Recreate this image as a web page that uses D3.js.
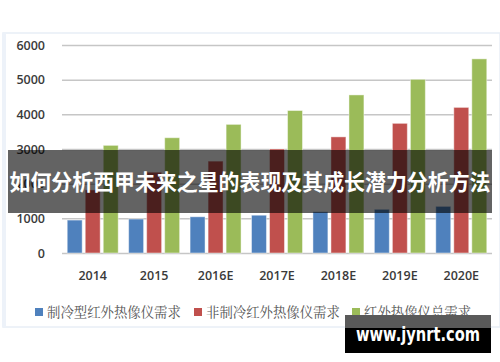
<!DOCTYPE html>
<html>
<head>
<meta charset="utf-8">
<script src="https://cdn.jsdelivr.net/npm/d3@7"></script>
<style>
  body { margin: 0; background: #fff; }
  svg { display: block; }
</style>
</head>
<body>
<svg id="barChart" width="500" height="362"></svg>
<script>
var years = ["2014", "2015", "2016E", "2017E", "2018E", "2019E", "2020E"];
var cooled = [950, 980, 1045, 1090, 1190, 1260, 1345];
var uncooled = [1820, 2330, 2650, 3000, 3350, 3740, 4200];
var total = [3105, 3325, 3710, 4110, 4560, 5010, 5600];
var seriesNames = ["制冷型红外热像仪需求", "非制冷红外热像仪需求", "红外热像仪总需求"];
var yTicks = [0, 1000, 2000, 3000, 4000, 5000, 6000];
var titleText = "如何分析西甲未来之星的表现及其成长潜力分析方法";
var siteText = "www.jynrt.com";

window.onload = function () {
    drawChart();
};

function drawChart() {
    var svg = d3.select("#barChart");
    var cjk = "'Noto Sans CJK SC', 'Noto Sans', sans-serif";

    // panel
    svg.append("rect")
        .attr("x", 3).attr("y", 33)
        .attr("width", 497).attr("height", 294)
        .attr("fill", "#fff")
        .attr("stroke", "#e8eef6")
        .attr("stroke-width", 1.5);
    svg.append("rect")
        .attr("x", 2).attr("y", 33)
        .attr("width", 4).attr("height", 294)
        .attr("fill", "#edf2f9");

    var data = years.map(function (y, i) {
        return {year: y, values: [cooled[i], uncooled[i], total[i]]};
    });

    var x0 = d3.scaleBand()
        .domain(years)
        .range([62, 492])
        .paddingInner(0.17)
        .paddingOuter(0.085);

    var x1 = d3.scaleBand()
        .domain([0, 1, 2])
        .range([0, x0.bandwidth()])
        .paddingInner(0.17);

    var y = d3.scaleLinear()
        .domain([0, 6000])
        .range([253, 45]);

    var z = d3.scaleOrdinal()
        .domain([0, 1, 2])
        .range(["#4f81bd", "#c0504d", "#9bbb59"]);

    // grid + y labels
    var yAxis = svg.append("g")
        .attr("transform", "translate(62,0)")
        .call(d3.axisLeft(y).tickValues(yTicks).tickSize(-430).tickFormat(d3.format("d")));
    yAxis.select(".domain").remove();
    yAxis.selectAll(".tick line")
        .attr("stroke", "#c6c6c6")
        .attr("stroke-width", 1.5);
    yAxis.selectAll(".tick text")
        .attr("x", -17)
        .attr("fill", "#3a3a3a")
        .attr("font-family", "'Open Sans', 'DejaVu Sans', sans-serif")
        .attr("font-size", 12.5)
        .attr("font-weight", 600);

    // bars
    svg.append("g")
        .selectAll("g")
        .data(data)
        .enter().append("g")
        .attr("transform", function (d) { return "translate(" + x0(d.year) + ",0)"; })
        .selectAll("rect")
        .data(function (d) { return d.values.map(function (v, k) { return {k: k, v: v}; }); })
        .enter().append("rect")
        .attr("x", function (d) { return x1(d.k); })
        .attr("y", function (d) { return y(d.v); })
        .attr("width", x1.bandwidth())
        .attr("height", function (d) { return y(0) - y(d.v); })
        .attr("fill", function (d) { return z(d.k); })
        .attr("stroke", "#ffffff")
        .attr("stroke-opacity", 0.45)
        .attr("stroke-width", 1);

    // x labels
    var xAxis = svg.append("g")
        .attr("transform", "translate(0,253)")
        .call(d3.axisBottom(x0).tickSize(0));
    xAxis.select(".domain").remove();
    xAxis.selectAll(".tick text")
        .attr("y", 18)
        .attr("dy", "0.71em")
        .attr("fill", "#3a3a3a")
        .attr("font-family", "'Open Sans', 'DejaVu Sans', sans-serif")
        .attr("font-size", 12.5)
        .attr("font-weight", 600);

    // legend
    var legendX = [35, 194, 352];
    var legend = svg.append("g")
        .selectAll("g")
        .data(seriesNames)
        .enter().append("g")
        .attr("transform", function (d, i) { return "translate(" + legendX[i] + ",308)"; });
    legend.append("rect")
        .attr("width", 8)
        .attr("height", 8)
        .attr("fill", function (d, i) { return z(i); });
    legend.append("text")
        .attr("x", 12)
        .attr("y", 4)
        .attr("dy", "0.36em")
        .attr("fill", "#555")
        .attr("font-family", "'Noto Serif CJK SC', " + cjk)
        .attr("font-size", 13.4)
        .text(function (d) { return d; });

    // title band over chart
    svg.append("rect")
        .attr("x", 8).attr("y", 150)
        .attr("width", 484).attr("height", 63)
        .attr("fill", "#000")
        .attr("fill-opacity", 0.61);
    svg.append("text")
        .attr("x", 250)
        .attr("y", 182)
        .attr("dy", "0.36em")
        .attr("text-anchor", "middle")
        .attr("fill", "#fff")
        .attr("font-family", cjk)
        .attr("font-weight", "bold")
        .attr("font-size", 21.5)
        .attr("textLength", 481)
        .attr("lengthAdjust", "spacingAndGlyphs")
        .text(titleText);

    // site badge
    svg.append("rect")
        .attr("x", 345).attr("y", 315)
        .attr("width", 146).attr("height", 13)
        .attr("fill", "#5a5a5a");
    svg.append("rect")
        .attr("x", 345).attr("y", 328)
        .attr("width", 146).attr("height", 25)
        .attr("fill", "#000");
    svg.append("text")
        .attr("x", 418)
        .attr("y", 341)
        .attr("text-anchor", "middle")
        .attr("fill", "#fff")
        .attr("font-family", "'DejaVu Sans', sans-serif")
        .attr("font-weight", "bold")
        .attr("font-size", 19)
        .attr("textLength", 124)
        .attr("lengthAdjust", "spacingAndGlyphs")
        .text(siteText);
}
</script>
</body>
</html>
